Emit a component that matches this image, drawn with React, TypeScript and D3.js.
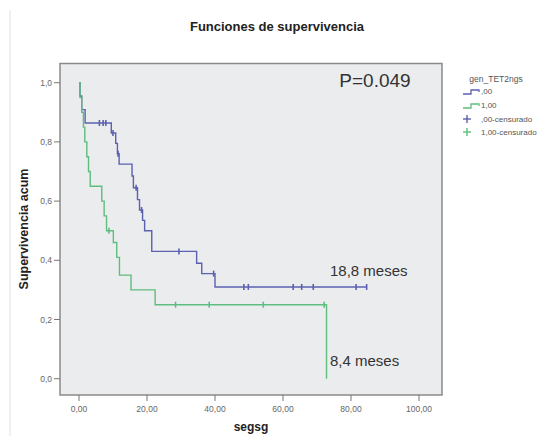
import React from "react";
import * as d3 from "d3";

const xTicks = [0, 20, 40, 60, 80, 100];
const yTicks = [0, 0.2, 0.4, 0.6, 0.8, 1.0];

// group ,00 (blue)
const blueTimes = [0.3, 0.8, 1.8, 9.5, 10.8, 11.3, 11.8, 15.6, 16.0, 17.2, 17.8, 18.7, 19.3, 21.4, 34.6, 36.1, 40.0];
const blueSurv = [0.955, 0.909, 0.864, 0.83, 0.795, 0.76, 0.725, 0.685, 0.645, 0.605, 0.57, 0.535, 0.50, 0.43, 0.39, 0.355, 0.31];
const blueCensor = [6.0, 7.1, 7.9, 10.0, 11.5, 16.8, 18.4, 29.4, 39.6, 48.5, 49.8, 63.0, 65.5, 68.9, 81.5, 84.6];
const blueEnd = 84.6;

// group 1,00 (green)
const greenTimes = [0.3, 0.8, 1.3, 1.7, 2.3, 2.8, 3.3, 6.7, 7.4, 8.1, 10.1, 11.1, 11.9, 15.3, 22.4, 72.8];
const greenSurv = [0.95, 0.90, 0.85, 0.80, 0.75, 0.70, 0.65, 0.60, 0.55, 0.50, 0.46, 0.41, 0.35, 0.30, 0.25, 0.0];
const greenCensor = [8.8, 28.4, 38.3, 54.2, 72.1];
const greenEnd = 72.8;

const BLUE = "#5c60b0";
const GREEN = "#5fbd7e";

const x = d3.scaleLinear().domain([0, 100]).range([79, 419]);
const y = d3.scaleLinear().domain([0, 1]).range([378.7, 82.7]);

function stepPoints(times: number[], surv: number[], end: number): [number, number][] {
  const pts: [number, number][] = [[0, 1]];
  times.forEach((t, i) => pts.push([t, surv[i]]));
  if (end > times[times.length - 1]) pts.push([end, surv[surv.length - 1]]);
  return pts;
}
function survAt(times: number[], surv: number[], t: number) {
  let s = 1;
  times.forEach((tt, i) => { if (tt <= t) s = surv[i]; });
  return s;
}

const line = d3.line<[number, number]>().x(d => x(d[0])).y(d => y(d[1])).curve(d3.curveStepAfter);

export default function App() {
  const fmtX = (v: number) => v.toFixed(2).replace(".", ",");
  const fmtY = (v: number) => v.toFixed(1).replace(".", ",");
  const series = [
    { times: blueTimes, surv: blueSurv, cens: blueCensor, end: blueEnd, color: BLUE },
    { times: greenTimes, surv: greenSurv, cens: greenCensor, end: greenEnd, color: GREEN },
  ];
  const legendItems = [
    { label: ",00", color: BLUE, kind: "line", y: 93 },
    { label: "1,00", color: GREEN, kind: "line", y: 107 },
    { label: ",00-censurado", color: BLUE, kind: "plus", y: 121 },
    { label: "1,00-censurado", color: GREEN, kind: "plus", y: 134 },
  ];
  return (
    <svg width={555} height={436} style={{ position: "absolute", left: 0, top: 0, background: "#fff" }}
      fontFamily="Arial, 'Liberation Sans', sans-serif">
      <line x1={10} x2={10} y1={10} y2={436} stroke="#f0f0f0" strokeWidth={2} />
      <text x={277} y={31} textAnchor="middle" fontSize={13} fontWeight="bold" fill="#222">Funciones de supervivencia</text>
      <rect x={60} y={63.5} width={382} height={331.5} fill="#ebecee" stroke="#8a8a8a" strokeWidth={1.5} />
      {yTicks.map(v => (
        <g key={v}>
          <line x1={54} x2={60} y1={y(v)} y2={y(v)} stroke="#777" />
          <text x={52} y={y(v) + 3} textAnchor="end" fontSize={8.5} fill="#666">{fmtY(v)}</text>
        </g>
      ))}
      {xTicks.map(v => (
        <g key={v}>
          <line x1={x(v)} x2={x(v)} y1={395} y2={401} stroke="#777" />
          <text x={x(v)} y={412} textAnchor="middle" fontSize={8.5} fill="#666">{fmtX(v)}</text>
        </g>
      ))}
      <text x={251} y={431} textAnchor="middle" fontSize={12} fontWeight="bold" fill="#222">segsg</text>
      <text transform="translate(28,229) rotate(-90)" textAnchor="middle" fontSize={12.5} fontWeight="bold" fill="#222">Supervivencia acum</text>
      {series.map((s, i) => (
        <g key={i}>
          <path d={line(stepPoints(s.times, s.surv, s.end)) || ""} fill="none" stroke={s.color} strokeWidth={1.4} />
          {s.cens.map((c, j) => {
            const sv = survAt(s.times, s.surv, c);
            return <line key={j} x1={x(c)} x2={x(c)} y1={y(sv) - 3} y2={y(sv) + 3} stroke={s.color} strokeWidth={1.6} />;
          })}
        </g>
      ))}
      <text x={375} y={87} textAnchor="middle" fontSize={19} fill="#333">P=0.049</text>
      <text x={330} y={276} fontSize={15} fill="#333">18,8 meses</text>
      <text x={330} y={366} fontSize={15} fill="#333">8,4 meses</text>
      <text x={496} y={82} textAnchor="middle" fontSize={8.5} fill="#555">gen_TET2ngs</text>
      {legendItems.map((it, i) => (
        <g key={i}>
          {it.kind === "line" ? (
            <path d={`M463,${it.y + 1}H471V${it.y - 3}H479V${it.y - 1}`} fill="none" stroke={it.color} strokeWidth={1.3} />
          ) : (
            <g stroke={it.color} strokeWidth={1.4}>
              <line x1={463} x2={471} y1={it.y - 2} y2={it.y - 2} />
              <line x1={467} x2={467} y1={it.y - 6} y2={it.y + 2} />
            </g>
          )}
          <text x={481} y={it.y + 1} fontSize={8} fill="#555">{it.label}</text>
        </g>
      ))}
    </svg>
  );
}
